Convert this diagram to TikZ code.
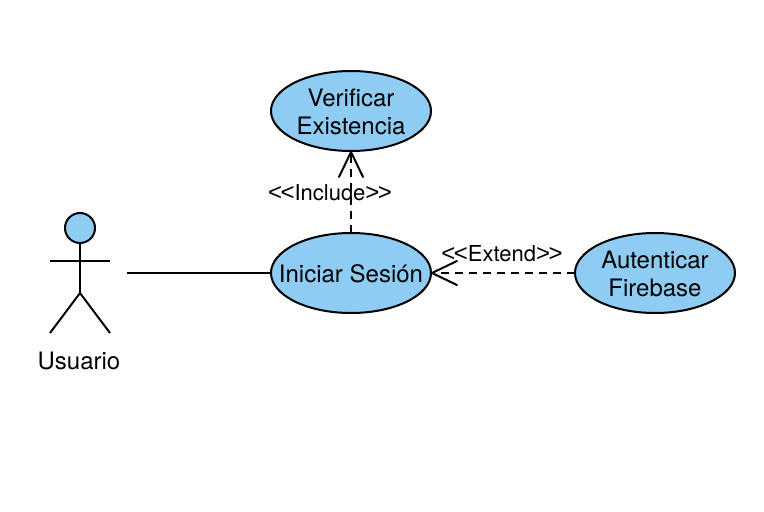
\documentclass[tikz,border=0pt]{standalone}
\usepackage{fontspec}
\setmainfont{TeX Gyre Heros}
\newfontfamily\chevfont{Liberation Sans}
\usetikzlibrary{shapes.geometric,arrows.meta}
\definecolor{ucblue}{HTML}{8ECCF3}
\newcommand{\lchev}{{\chevfont\fontsize{24}{26}\selectfont<\kern-1.5pt<}}
\newcommand{\rchev}{{\chevfont\fontsize{24}{26}\selectfont>\kern-1.5pt>}}
\tikzset{
  uc/.style={ellipse,draw=black,fill=ucblue,line width=2pt,minimum width=160pt,minimum height=80pt,inner sep=0pt,outer sep=0pt},
  uctext/.style={align=center,inner sep=0pt,font=\fontsize{24}{28}\selectfont,yshift=-1pt},
  lbl/.style={inner sep=0pt,font=\fontsize{22}{26}\selectfont},
  conn/.style={line width=2pt},
  dep/.style={conn,dash pattern=on 8pt off 6pt,-{Straight Barb[length=25pt,width=24pt,line width=2pt,round=false,sep=0pt]}},
  stick/.style={line width=2pt}
}
\begin{document}
\begin{tikzpicture}[x=1pt,y=-1pt]
\useasboundingbox (0,0) rectangle (764,512);
\node[uc,label={[uctext]center:Verificar\\Existencia}] (v) at (351,111) {};
\node[uc,label={[uctext]center:Iniciar Sesión}] (i) at (351,273) {};
\node[uc,label={[uctext]center:Autenticar\\Firebase}] (a) at (655,273) {};
% actor
\node[circle,draw=black,fill=ucblue,line width=2pt,minimum size=30pt,inner sep=0pt,outer sep=0pt] (head) at (80,228) {};
\coordinate (hip) at (80,293);
\coordinate (armL) at (50,261);
\coordinate (armR) at (110,261);
\coordinate (legL) at (50,333);
\coordinate (legR) at (110,333);
\draw[stick] (head.south) -- (hip);
\draw[stick] (armL) -- (armR);
\draw[stick] (legL) -- (hip) -- (legR);
\node[lbl,font=\fontsize{24}{28}\selectfont] (u) at (79,361) {Usuario};
\coordinate (actorEnd) at (127,273);
\draw[conn] (actorEnd) -- (i.west);
\draw[dep] (i.north) -- (v.south);
\draw[dep] (a.west) -- (i.east);
\node[lbl] (li) at (330,193) {\lchev Include\rchev};
\node[lbl] (le) at (502,254) {\lchev Extend\rchev};
\end{tikzpicture}
\end{document}
